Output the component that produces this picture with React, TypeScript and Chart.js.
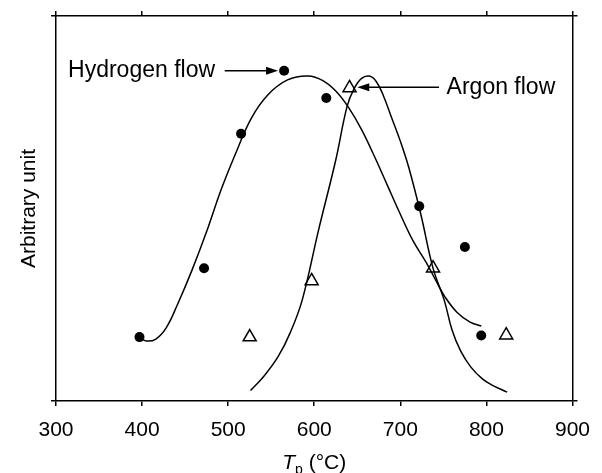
import React, { useEffect, useRef } from "react";
import { Chart, registerables } from "chart.js";

Chart.register(...registerables);

const FONT = '"Liberation Sans", Arial, Helvetica, sans-serif';

// Smooth fitted curve (hand drawn in the original), Hydrogen flow
const hydrogenCurveT = [397, 405, 416, 428, 441, 458, 475, 492, 510, 527, 546, 569, 593, 610, 625, 640, 655, 670, 685, 700, 715, 730, 742, 752, 766, 781, 794];
const hydrogenCurveV = [16.6, 15.6, 16.1, 19, 25, 34, 44, 55, 65, 73.5, 79.5, 83.4, 84.4, 83.2, 80.5, 76.2, 70.5, 63.5, 56, 48.5, 41.5, 36, 31, 27, 23, 20.5, 19.5];

// Smooth fitted curve, Argon flow
const argonCurveT = [526, 541, 558, 572, 586, 605, 625, 638, 646, 655, 664, 672, 680, 690, 700, 710, 724, 738, 751, 760, 770, 782, 795, 806, 824];
const argonCurveV = [2.7, 6.3, 11.5, 17.7, 26.2, 44.4, 62.6, 76.4, 81, 83.8, 84.4, 83, 79.5, 73.5, 67.5, 60.5, 48.3, 34.5, 26.2, 18.5, 13, 8.8, 5.8, 4.2, 2.3];

// Measured points
const hydrogenT = [397, 472, 515, 565, 614, 722, 775, 794];
const hydrogenV = [16.6, 34.5, 69.4, 85.8, 78.7, 50.6, 40, 17];
const argonT = [525, 597, 641, 738, 823];
const argonV = [16.6, 31.2, 81.3, 34.5, 17.1];

// Axes
const xMin = 300;
const xMax = 900;
const xStep = 100;
const yMin = 0;
const yMax = 100;
const yTitle = "Arbitrary unit";
const xTitleVar = "T";
const xTitleSub = "p";
const xTitleUnit = " (\u00B0C)";

// Annotations (text, anchor in data units, arrow from/to in data units)
const annotationTexts = ["Hydrogen flow", "Argon flow"];
const annotationTextT = [314, 880];
const annotationV = [85.8, 81.5];
const annotationAlign: CanvasTextAlign[] = ["left", "right"];
const annotationArrowFromT = [496, 745];
const annotationArrowToT = [558, 650];

const zip = (xs: number[], ys: number[]) => xs.map((x, i) => ({ x, y: ys[i] }));

const annotationPlugin = {
  id: "figureAnnotations",
  afterDatasetsDraw(chart: any) {
    const { ctx, scales } = chart;
    const x = scales.x;
    const y = scales.y;
    ctx.save();
    ctx.fillStyle = "#000";
    ctx.strokeStyle = "#000";
    ctx.lineWidth = 1.5;
    ctx.font = `23px ${FONT}`;
    ctx.textBaseline = "middle";
    annotationTexts.forEach((text, i) => {
      const ty = y.getPixelForValue(annotationV[i]);
      ctx.textAlign = annotationAlign[i];
      ctx.fillText(text, x.getPixelForValue(annotationTextT[i]), ty);
      const x1 = x.getPixelForValue(annotationArrowFromT[i]);
      const x2 = x.getPixelForValue(annotationArrowToT[i]);
      const dir = Math.sign(x2 - x1);
      const headLen = 12;
      ctx.beginPath();
      ctx.moveTo(x1, ty);
      ctx.lineTo(x2 - dir * headLen + dir * 1, ty);
      ctx.stroke();
      ctx.beginPath();
      ctx.moveTo(x2, ty);
      ctx.lineTo(x2 - dir * headLen, ty - 4);
      ctx.lineTo(x2 - dir * headLen, ty + 4);
      ctx.closePath();
      ctx.fill();
    });
    ctx.restore();
  },
  afterDraw(chart: any) {
    const { ctx, chartArea } = chart;
    const xs = chart.scales.x;
    ctx.save();
    ctx.fillStyle = "#000";
    ctx.textBaseline = "alphabetic";
    ctx.textAlign = "left";
    const mainFont = `21px ${FONT}`;
    const italicFont = `italic 21px ${FONT}`;
    const subFont = `14px ${FONT}`;
    ctx.font = italicFont;
    const wT = ctx.measureText(xTitleVar).width;
    ctx.font = subFont;
    const wP = ctx.measureText(xTitleSub).width;
    ctx.font = mainFont;
    const wU = ctx.measureText(xTitleUnit).width;
    const total = wT + wP + wU;
    const cx = (chartArea.left + chartArea.right) / 2;
    const baseY = xs.bottom - 4;
    let cur = cx - total / 2;
    ctx.font = italicFont;
    ctx.fillText(xTitleVar, cur, baseY);
    cur += wT;
    ctx.font = subFont;
    ctx.fillText(xTitleSub, cur, baseY + 5);
    cur += wP;
    ctx.font = mainFont;
    ctx.fillText(xTitleUnit, cur, baseY);
    ctx.restore();
  },
};

export default function App() {
  const ref = useRef<HTMLCanvasElement>(null);

  useEffect(() => {
    if (!ref.current) return;
    const axisGrid = {
      display: true,
      drawOnChartArea: false,
      drawTicks: true,
      tickLength: 5,
      color: "#000",
      lineWidth: 1.5,
    };
    const axisBorder = { display: true, color: "#000", width: 1.5 };
    const curveStyle = {
      borderColor: "#000",
      borderWidth: 1.5,
      pointRadius: 0,
      fill: false,
      tension: 0.4,
    };
    const chart = new Chart(ref.current, {
      type: "line",
      data: {
        datasets: [
          { label: "Hydrogen flow fit", data: zip(hydrogenCurveT, hydrogenCurveV), ...curveStyle },
          { label: "Argon flow fit", data: zip(argonCurveT, argonCurveV), ...curveStyle },
          {
            label: "Hydrogen flow",
            data: zip(hydrogenT, hydrogenV),
            showLine: false,
            pointStyle: "circle",
            pointRadius: 5,
            pointBackgroundColor: "#000",
            pointBorderColor: "#000",
            pointBorderWidth: 0,
          },
          {
            label: "Argon flow",
            data: zip(argonT, argonV),
            showLine: false,
            pointStyle: "triangle",
            pointRadius: 7.5,
            pointBackgroundColor: "#fff",
            pointBorderColor: "#000",
            pointBorderWidth: 1.5,
          },
        ],
      },
      options: {
        animation: false,
        responsive: false,
        maintainAspectRatio: false,
        events: [],
        layout: { padding: { top: 16, right: 19, left: 0, bottom: 0 } },
        plugins: {
          legend: { display: false },
          tooltip: { enabled: false },
          title: { display: false },
        },
        scales: {
          x: {
            type: "linear",
            position: "bottom",
            min: xMin,
            max: xMax,
            ticks: {
              stepSize: xStep,
              autoSkip: false,
              maxRotation: 0,
              padding: 12,
              color: "#000",
              font: { size: 21, family: FONT },
            },
            grid: axisGrid,
            border: axisBorder,
            afterFit: (s: any) => {
              s.height = 72;
            },
          },
          x2: {
            type: "linear",
            position: "top",
            min: xMin,
            max: xMax,
            ticks: { stepSize: xStep, display: false },
            grid: axisGrid,
            border: axisBorder,
            afterFit: (s: any) => {
              s.height = 0;
            },
          },
          y: {
            type: "linear",
            position: "left",
            min: yMin,
            max: yMax,
            ticks: { display: false, stepSize: yMax - yMin },
            grid: axisGrid,
            border: axisBorder,
            title: {
              display: true,
              text: yTitle,
              color: "#000",
              font: { size: 21, family: FONT },
              padding: { top: 17, bottom: 0 },
            },
            afterFit: (s: any) => {
              s.width = 56;
            },
          },
          y2: {
            type: "linear",
            position: "right",
            min: yMin,
            max: yMax,
            ticks: { display: false, stepSize: yMax - yMin },
            grid: axisGrid,
            border: axisBorder,
            afterFit: (s: any) => {
              s.width = 0;
            },
          },
        },
      } as any,
      plugins: [annotationPlugin],
    });
    return () => chart.destroy();
  }, []);

  return (
    <div style={{ position: "absolute", left: 0, top: 0, width: 602, height: 473, background: "#fff" }}>
      <canvas ref={ref} width={602} height={473} style={{ display: "block", width: 602, height: 473 }} />
    </div>
  );
}
